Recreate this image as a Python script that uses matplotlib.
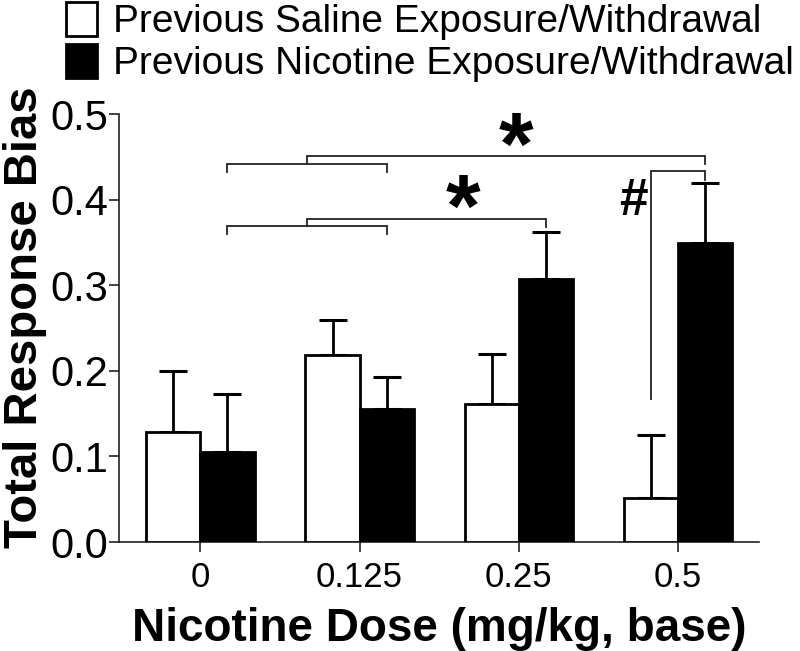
import matplotlib
matplotlib.use("Agg")
import matplotlib.pyplot as plt
from matplotlib.patches import Patch
import numpy as np

plt.rcParams['font.family'] = ['Liberation Sans', 'DejaVu Sans']

doses = ["0", "0.125", "0.25", "0.5"]
saline_mean = [0.129, 0.219, 0.161, 0.052]
saline_sem = [0.071, 0.041, 0.059, 0.073]
nicotine_mean = [0.105, 0.156, 0.308, 0.350]
nicotine_sem = [0.068, 0.037, 0.054, 0.070]
legend_labels = ["Previous Saline Exposure/Withdrawal",
                 "Previous Nicotine Exposure/Withdrawal"]

fig = plt.figure(figsize=(8.0, 6.51), dpi=100)
ax = fig.add_axes([0.149, 0.1674, 0.800, 0.657])

x = np.arange(len(doses))
w = 0.34
xs = x - w / 2
xn = x + w / 2

ax.bar(xs, saline_mean, width=w, color='white', edgecolor='black', linewidth=2.0, zorder=3)
ax.bar(xn, nicotine_mean, width=w, color='black', edgecolor='black', linewidth=2.0, zorder=3)
ax.errorbar(xs, saline_mean, yerr=[np.zeros(4), saline_sem], fmt='none',
            ecolor='black', elinewidth=2.0, capsize=10, capthick=2.2, zorder=2)
ax.errorbar(xn, nicotine_mean, yerr=[np.zeros(4), nicotine_sem], fmt='none',
            ecolor='black', elinewidth=2.0, capsize=10, capthick=2.2, zorder=2)

ax.set_xlim(-0.51, 3.51)
ax.set_ylim(0, 0.5)
ax.set_xticks(x)
ax.set_xticklabels(doses, fontsize=25)
ax.set_yticks([0.0, 0.1, 0.2, 0.3, 0.4, 0.5])
ax.set_yticklabels(["0.0", "0.1", "0.2", "0.3", "0.4", "0.5"], fontsize=30)
ax.tick_params(axis='both', direction='out', length=7, width=1.2, color='#222222')
ax.tick_params(axis='x', pad=7)
ax.tick_params(axis='y', pad=1)
for s in ['top', 'right']:
    ax.spines[s].set_visible(False)
for s in ['left', 'bottom']:
    ax.spines[s].set_linewidth(1.2)
    ax.spines[s].set_color('#222222')

ax.set_xlabel("Nicotine Dose (mg/kg, base)", fontsize=33, fontweight='bold', labelpad=9)
fig.text(25 / 800, 1 - 317 / 651, "Total Response Bias", rotation=90, fontsize=34,
         fontweight='bold', ha='center', va='center')

lc = '#222222'
blw = 1.3
def pooled_bracket(y_low, y_stem, y_end_drop, target_x):
    ax.plot([xn[0], xn[0], xn[1], xn[1]], [y_low - 0.009, y_low, y_low, y_low - 0.009],
            color=lc, lw=blw, clip_on=False, solid_joinstyle='miter')
    mid = (xn[0] + xn[1]) / 2
    ax.plot([mid, mid, target_x, target_x], [y_low, y_stem, y_stem, y_end_drop],
            color=lc, lw=blw, clip_on=False, solid_joinstyle='miter')

pooled_bracket(0.442, 0.451, 0.442, xn[3])
pooled_bracket(0.369, 0.3775, 0.368, xn[2])
ax.plot([xs[3], xs[3], xn[3], xn[3]], [0.167, 0.434, 0.434, 0.4235],
        color=lc, lw=blw, clip_on=False, solid_joinstyle='miter')

ax.text(1.98, 0.457, "*", fontsize=64, fontweight='bold', ha='center', va='center', clip_on=False)
ax.text(1.65, 0.385, "*", fontsize=64, fontweight='bold', ha='center', va='center', clip_on=False)
ax.text(2.72, 0.398, "#", fontsize=37, fontweight='bold', ha='center', va='center', clip_on=False)

handles = [Patch(facecolor='white', edgecolor='black', linewidth=2.0),
           Patch(facecolor='black', edgecolor='black', linewidth=2.0)]
fig.legend(handles, legend_labels, loc='upper left', bbox_to_anchor=(66 / 800, 1 - 2 / 651),
           frameon=False, fontsize=28, handlelength=0.8, handleheight=0.95,
           handletextpad=0.42, labelspacing=0.1, borderaxespad=0, borderpad=0)

fig.savefig("out.png", dpi=100)
